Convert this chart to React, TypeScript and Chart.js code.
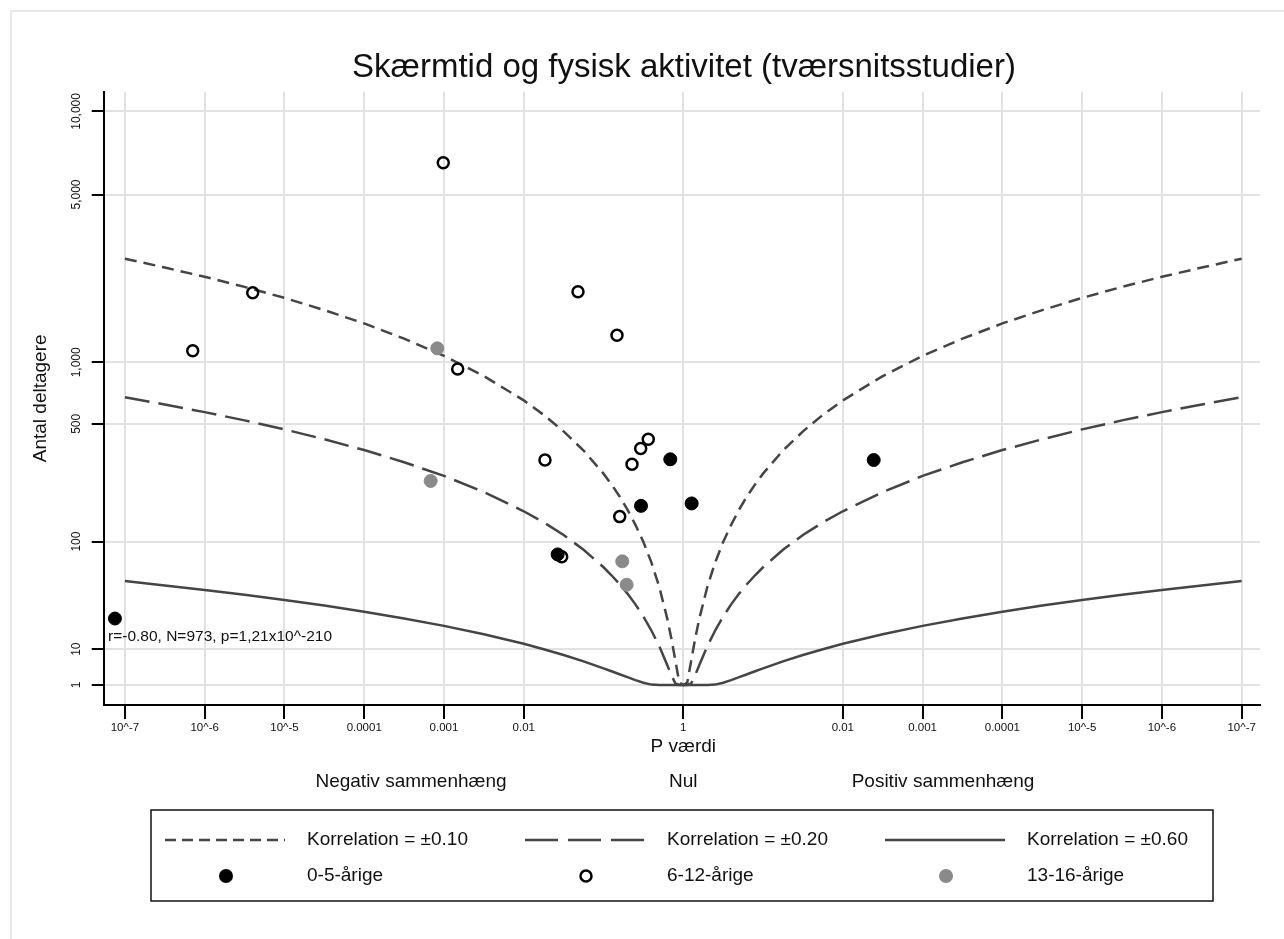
import React, { useEffect, useRef } from "react";
import { Chart, registerables } from "chart.js";

Chart.register(...registerables);

// ---------- text ----------
const TITLE = "Skærmtid og fysisk aktivitet (tværsnitsstudier)";
const Y_TITLE = "Antal deltagere";
const X_TITLE = "P værdi";
const DIRECTION_LABELS = ["Negativ sammenhæng", "Nul", "Positiv sammenhæng"];
const ANNOTATION = "r=-0.80, N=973, p=1,21x10^-210";
const LEGEND_LINE_LABELS = ["Korrelation = ±0.10", "Korrelation = ±0.20", "Korrelation = ±0.60"];
const LEGEND_GROUP_LABELS = ["0-5-årige", "6-12-årige", "13-16-årige"];

// ---------- axes (x = signed log10 of P, negative = negative association) ----------
const xTickValues = [-7, -6, -5, -4, -3, -2, 0, 2, 3, 4, 5, 6, 7];
const xTickLabels = ["10^-7", "10^-6", "10^-5", "0.0001", "0.001", "0.01", "1", "0.01", "0.001", "0.0001", "10^-5", "10^-6", "10^-7"];
const yTickValues = [1, 10, 100, 500, 1000, 5000, 10000];
const yTickLabels = ["1", "10", "100", "500", "1,000", "5,000", "10,000"];

// ---------- contour lines: number of participants at each P exponent ----------
const contourExponents = [-7, -6.5, -6, -5.5, -5, -4.5, -4, -3.5, -3, -2.5, -2, -1.75, -1.5, -1.25, -1, -0.9, -0.8, -0.7, -0.6, -0.5, -0.4, -0.3, -0.2, -0.15, -0.1, -0.05, 0];
const contourR010 = [2809, 2585, 2369, 2150, 1932, 1713, 1499, 1283, 1072, 862, 657, 556, 457, 361, 268, 232, 197, 163, 130, 99.4, 70.7, 44.8, 22.8, 13.9, 6.74, 1.85, 1];
const contourR020 = [681, 627, 574, 521, 468, 415, 363, 311, 260, 209, 159, 135, 111, 87.6, 64.9, 56.2, 47.7, 39.5, 31.6, 24.1, 17.1, 10.9, 5.52, 3.37, 1.63, 1, 1];
const contourR060 = [50.4, 46.4, 42.5, 38.6, 34.7, 30.8, 26.9, 23.0, 19.25, 15.47, 11.8, 9.99, 8.21, 6.49, 4.81, 4.16, 3.53, 2.93, 2.34, 1.785, 1.27, 1, 1, 1, 1, 1, 1];

// ---------- studies ----------
const age0to5P = [-7.125, -1.575, -0.53, -0.163, 0.105, 2.387];
const age0to5N = [23, 81, 172, 323, 178, 320];
const age6to12P = [-3.009, -5.398, -6.15, -2.828, -1.32, -0.831, -1.734, -0.439, -0.534, -0.643, -0.797, -1.524];
const age6to12N = [6560, 2030, 1130, 930, 2050, 1330, 320, 415, 370, 303, 147, 78];
const age13to16P = [-3.084, -3.167, -0.765, -0.71];
const age13to16N = [1160, 243, 72, 47];

// ---------- styling ----------
const FONT = '"Liberation Sans", Arial, Helvetica, sans-serif';
const TEXT = "#111111";
const LINE = "#454545";
const GRAY_DOT = "#8a8a8a";
const DASH_SHORT = [12, 7];
const DASH_LONG = [25, 9];

const sq = (n: number) => Math.pow(Math.log10(n), 2);

const pts = (xs: number[], ns: number[]) => xs.map((x, i) => ({ x, y: sq(ns[i]) }));

const contourPts = (ns: number[]) => {
  const left = contourExponents.map((e, i) => ({ x: e, y: sq(ns[i]) }));
  const right: { x: number; y: number }[] = [];
  for (let i = contourExponents.length - 2; i >= 0; i--) {
    right.push({ x: -contourExponents[i], y: sq(ns[i]) });
  }
  return left.concat(right);
};

const drawPlugin = {
  id: "drawPlugin",
  beforeDraw(chart: any) {
    const ctx = chart.ctx;
    ctx.save();
    ctx.strokeStyle = "#e9e9e9";
    ctx.lineWidth = 2;
    ctx.beginPath();
    ctx.moveTo(11, 939);
    ctx.lineTo(11, 11);
    ctx.lineTo(1284, 11);
    ctx.stroke();
    ctx.restore();
  },
  afterDraw(chart: any) {
    const ctx = chart.ctx;
    const xs = chart.scales.x;
    const ys = chart.scales.y;
    const area = chart.chartArea;
    ctx.save();
    ctx.fillStyle = TEXT;

    // title
    ctx.font = `33px ${FONT}`;
    ctx.textAlign = "center";
    ctx.textBaseline = "middle";
    ctx.fillText(TITLE, 684, 68);

    // y tick labels (rotated)
    ctx.font = `12px ${FONT}`;
    yTickValues.forEach((v, i) => {
      const y = ys.getPixelForValue(sq(v));
      ctx.save();
      ctx.translate(77, y);
      ctx.rotate(-Math.PI / 2);
      ctx.textAlign = "center";
      ctx.textBaseline = "middle";
      ctx.fillText(yTickLabels[i], 0, 0);
      ctx.restore();
    });

    // x tick labels
    ctx.font = `11.5px ${FONT}`;
    ctx.textAlign = "center";
    ctx.textBaseline = "middle";
    xTickValues.forEach((v, i) => {
      ctx.fillText(xTickLabels[i], xs.getPixelForValue(v), area.bottom + 23);
    });

    // axis titles
    ctx.font = `19px ${FONT}`;
    ctx.fillText(X_TITLE, xs.getPixelForValue(0), area.bottom + 42);
    ctx.save();
    ctx.translate(41, (area.top + area.bottom) / 2);
    ctx.rotate(-Math.PI / 2);
    ctx.fillText(Y_TITLE, 0, 0);
    ctx.restore();

    // direction captions
    const dirX = [411, xs.getPixelForValue(0), 943];
    DIRECTION_LABELS.forEach((t, i) => ctx.fillText(t, dirX[i], 782));

    // annotation
    ctx.font = `15.5px ${FONT}`;
    ctx.textAlign = "left";
    ctx.fillText(ANNOTATION, 108, 637);

    // legend
    const bx = 151, by = 810, bw = 1062, bh = 91;
    ctx.strokeStyle = "#111";
    ctx.lineWidth = 1.5;
    ctx.setLineDash([]);
    ctx.strokeRect(bx, by, bw, bh);
    const cols = [165, 525, 885];
    const row1 = 840, row2 = 876;
    const dashes = [[11, 6], [33, 10], []];
    ctx.strokeStyle = LINE;
    ctx.lineWidth = 2.5;
    cols.forEach((cx, i) => {
      ctx.setLineDash(dashes[i]);
      ctx.beginPath();
      ctx.moveTo(cx, row1);
      ctx.lineTo(cx + 120, row1);
      ctx.stroke();
    });
    ctx.setLineDash([]);
    ctx.font = `19px ${FONT}`;
    ctx.fillStyle = TEXT;
    ctx.textAlign = "left";
    cols.forEach((cx, i) => {
      ctx.fillText(LEGEND_LINE_LABELS[i], cx + 142, row1);
      ctx.fillText(LEGEND_GROUP_LABELS[i], cx + 142, row2);
    });
    // legend markers
    ctx.fillStyle = "#000";
    ctx.beginPath();
    ctx.arc(cols[0] + 61, row2, 7, 0, Math.PI * 2);
    ctx.fill();
    ctx.strokeStyle = "#000";
    ctx.lineWidth = 2.5;
    ctx.beginPath();
    ctx.arc(cols[1] + 61, row2, 5.5, 0, Math.PI * 2);
    ctx.stroke();
    ctx.fillStyle = GRAY_DOT;
    ctx.beginPath();
    ctx.arc(cols[2] + 61, row2, 7, 0, Math.PI * 2);
    ctx.fill();

    ctx.restore();
  },
};

export default function App() {
  const ref = useRef<HTMLCanvasElement | null>(null);

  useEffect(() => {
    document.body.style.margin = "0";
    const canvas = ref.current;
    if (!canvas) return;
    const chart = new Chart(canvas, {
      type: "scatter",
      data: {
        datasets: [
          {
            label: "6-12-årige",
            data: pts(age6to12P, age6to12N),
            showLine: false,
            pointRadius: 5.5,
            pointBorderWidth: 2.5,
            pointBorderColor: "#000",
            pointBackgroundColor: "rgba(0,0,0,0)",
          },
          {
            label: "0-5-årige",
            data: pts(age0to5P, age0to5N),
            showLine: false,
            pointRadius: 6.5,
            pointBorderWidth: 1,
            pointBorderColor: "#000",
            pointBackgroundColor: "#000",
          },
          {
            label: "13-16-årige",
            data: pts(age13to16P, age13to16N),
            showLine: false,
            pointRadius: 6.5,
            pointBorderWidth: 1,
            pointBorderColor: GRAY_DOT,
            pointBackgroundColor: GRAY_DOT,
          },
          {
            label: "Korrelation = ±0.10",
            data: contourPts(contourR010),
            showLine: true,
            pointRadius: 0,
            borderColor: LINE,
            borderWidth: 2.5,
            borderDash: DASH_SHORT,
            tension: 0,
          },
          {
            label: "Korrelation = ±0.20",
            data: contourPts(contourR020),
            showLine: true,
            pointRadius: 0,
            borderColor: LINE,
            borderWidth: 2.5,
            borderDash: DASH_LONG,
            tension: 0,
          },
          {
            label: "Korrelation = ±0.60",
            data: contourPts(contourR060),
            showLine: true,
            pointRadius: 0,
            borderColor: LINE,
            borderWidth: 2.5,
            tension: 0,
          },
        ],
      },
      options: {
        responsive: false,
        animation: false,
        events: [],
        layout: { padding: { left: 91.7, right: 24, top: 91.7, bottom: 220 } },
        plugins: { legend: { display: false }, tooltip: { enabled: false } },
        scales: {
          x: {
            type: "linear",
            min: -7.266,
            max: 7.23,
            afterBuildTicks: (s: any) => {
              s.ticks = xTickValues.map((v) => ({ value: v }));
            },
            ticks: { display: false },
            grid: { color: "#e2e2e2", lineWidth: 2, drawTicks: true, tickLength: 14, tickColor: "#000", tickWidth: 2 },
            border: { color: "#000", width: 2 },
          },
          y: {
            type: "linear",
            min: -0.558,
            max: 16.55,
            afterBuildTicks: (s: any) => {
              s.ticks = yTickValues.map((v) => ({ value: sq(v) }));
            },
            ticks: { display: false },
            grid: { color: "#e2e2e2", lineWidth: 2, drawTicks: true, tickLength: 12, tickColor: "#000", tickWidth: 2 },
            border: { color: "#000", width: 2 },
          },
        },
      },
      plugins: [drawPlugin],
    } as any);
    return () => chart.destroy();
  }, []);

  return (
    <div style={{ position: "absolute", left: 0, top: 0, width: 1284, height: 939, background: "#fff" }}>
      <canvas ref={ref} width={1284} height={939} />
    </div>
  );
}
